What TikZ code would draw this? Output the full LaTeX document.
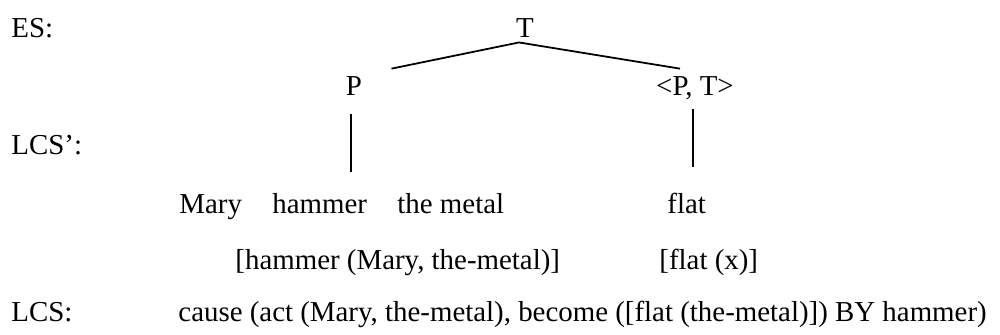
\documentclass[tikz,border=0pt]{standalone}
\usepackage{fontspec}
\setmainfont{Liberation Serif}
\usetikzlibrary{calc}

\begin{document}
\begin{tikzpicture}[
    x=0.45pt, y=-0.45pt,
    word/.style={inner sep=0pt, anchor=base west, font=\fontsize{13pt}{15pt}\selectfont},
    cat/.style={word, anchor=base},
    edge/.style={line width=0.8pt}
]
\useasboundingbox (0,0) rectangle (1000,334);
% row labels
\node[word] (es) at (11,37) {ES:};
\node[word] (lcsp) at (11,154) {LCS’:};
\node[word] (lcs) at (11,321) {LCS:};
% event structure
\node[cat] (T) at (525,37) {T};
\node[cat] (P) at (354,95) {P};
\node[cat] (PT) at (695,95) {<P, T>};
\draw[edge] ($(P.north east)+(29,-7)$) -- ($(T.south)+(-6,5)$) -- ($(PT.north)+(-15,-7)$);
\draw[edge] ($(P.base)+(-3,19)$) -- ($(P.base)+(-3,77)$);
\draw[edge] ($(PT.base)+(-2,14)$) -- ($(PT.base)+(-2,72)$);
% words
\node[word] (mary) at (179,213) {Mary};
\node[word] (hammer) at (272,213) {hammer};
\node[word] (metal) at (397,213) {the metal};
\node[word] (flat) at (667,213) {flat};
% LCS'
\node[word] (hammerlcs) at (235,269) {[hammer (Mary, the-metal)]};
\node[word] (flatlcs) at (659,269) {[flat (x)]};
% LCS
\node[word] (cause) at (178,321) {cause (act (Mary, the-metal), become ([flat (the-metal)]) BY hammer)};
\end{tikzpicture}
\end{document}
